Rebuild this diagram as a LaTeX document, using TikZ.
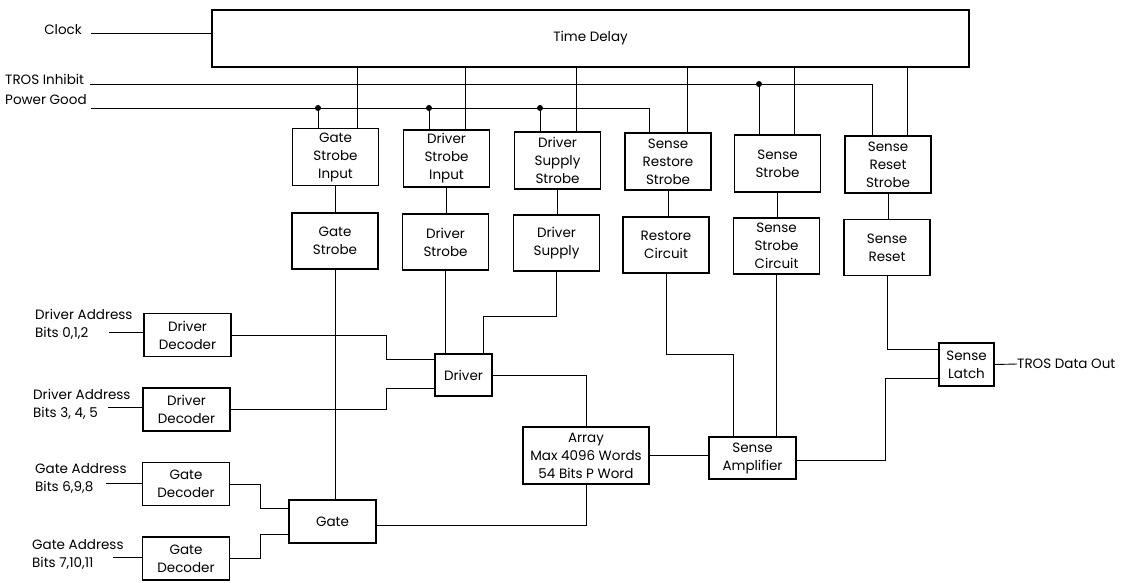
\documentclass[tikz,border=0pt]{standalone}
\usepackage{fontspec}
\setmainfont{Poppins}
\usetikzlibrary{calc}
\begin{document}
\begin{tikzpicture}[x=1pt,y=-1pt,
  txt/.style={font=\fontsize{13.5}{18}\selectfont},
  box/.style={draw, line width=1.4pt, align=center, inner sep=0pt, txt},
  sbox/.style={box, minimum width=86pt, minimum height=57pt},
  tbox/.style={box, minimum width=86pt, minimum height=56pt},
  dbox/.style={box, minimum width=87pt, minimum height=43pt},
  wire/.style={line width=0.9pt},
  lab/.style={inner sep=0pt, align=left, txt},
  jdot/.style={circle, fill, inner sep=0pt, minimum size=6pt}]
\useasboundingbox (0,0) rectangle (1127,582);

% Time delay
\node[box, minimum width=757pt, minimum height=57pt] (td) at (590.5,38.5) {Time Delay};

% strobe row
\node[sbox] (gsi)  at (335.5,157)   {Gate\\Strobe\\Input};
\node[sbox] (dsi)  at (446.5,158.5) {Driver\\Strobe\\Input};
\node[sbox] (dss)  at (557.5,160.5) {Driver\\Supply\\Strobe};
\node[sbox] (srs)  at (668,161.5)   {Sense\\Restore\\Strobe};
\node[sbox] (ss)   at (777.5,163.5) {Sense\\Strobe};
\node[sbox] (srst) at (888,164.5)   {Sense\\Reset\\Strobe};

% second row
\node[tbox] (gs)   at (335,241)     {Gate\\Strobe};
\node[tbox] (ds)   at (445.5,242)   {Driver\\Strobe};
\node[tbox] (dsup) at (556.5,243)   {Driver\\Supply};
\node[tbox] (rc)   at (666,245)     {Restore\\Circuit};
\node[tbox] (ssc)  at (776.5,246)   {Sense\\Strobe\\Circuit};
\node[tbox] (sr)   at (887,247.5)   {Sense\\Reset};

% decoders and lower blocks
\node[dbox] (dd1) at (187.5,335)  {Driver\\Decoder};
\node[dbox] (dd2) at (186.5,409.5){Driver\\Decoder};
\node[dbox] (gd1) at (186,484)    {Gate\\Decoder};
\node[dbox] (gd2) at (186,558.5)  {Gate\\Decoder};
\node[dbox] (gate) at (332.5,521.5) {Gate};
\node[box, minimum width=57pt, minimum height=42pt] (drv) at (463.5,375) {Driver};
\node[box, minimum width=126pt, minimum height=57pt] (arr) at (586,455.5) {Array\\Max 4096 Words\\54 Bits P Word};
\node[box, minimum width=87pt, minimum height=42pt] (samp) at (752.5,458) {Sense\\Amplifier};
\node[box, minimum width=55pt, minimum height=43pt] (latch) at (966.5,364.5) {Sense\\Latch};

% labels
\node[lab, anchor=east] (clk) at (82,30) {Clock};
\node[lab, anchor=west] (tros) at (5,79) {TROS Inhibit};
\node[lab, anchor=west] (pg) at (5,100) {Power Good};
\node[lab, anchor=north west] (da1) at (35,309) {Driver Address\\Bits 0,1,2};
\node[lab, anchor=north west] (da2) at (33,389) {Driver Address\\Bits 3, 4, 5};
\node[lab, anchor=north west] (ga1) at (35,463) {Gate Address\\Bits 6,9,8};
\node[lab, anchor=north west] (ga2) at (32,539) {Gate Address\\Bits 7,10,11};
\node[lab, anchor=west] (out) at (1017,364) {TROS Data Out};

% free ends
\coordinate (clkin) at (91,33);
\coordinate (trosin) at (90,84);
\coordinate (pgin) at (91,108);
\coordinate (in1) at (109,332);
\coordinate (in2) at (108,407);
\coordinate (in3) at (106,483);
\coordinate (in4) at (113,557);

\draw[wire] (clkin) -- (clkin -| td.west);
\draw[wire] (in1) -- (in1 -| dd1.west);
\draw[wire] (in2) -- (in2 -| dd2.west);
\draw[wire] (in3) -- (in3 -| gd1.west);
\draw[wire] (in4) -- (in4 -| gd2.west);
\draw[wire] (latch.east) -- (out.west);

% time delay taps
\foreach \n/\s in {gsi/21.5, dsi/18.5, dss/18.5, srs/19, ss/16.5, srst/19}{
  \path ([xshift=\s pt]\n.north) coordinate (tap);
  \draw[wire] (tap) -- (tap |- td.south);
}

% TROS inhibit
\path ([xshift=-16pt]srst.north) coordinate (t2);
\path ([xshift=-18.5pt]ss.north) coordinate (t1);
\draw[wire] (trosin) -| (t2);
\draw[wire] (t1) -- (t1 |- trosin);
\node[jdot] at (t1 |- trosin) {};

% Power good
\path ([xshift=-19pt]srs.north) coordinate (p4);
\draw[wire] (pgin) -| (p4);
\foreach \n in {gsi, dsi, dss}{
  \path ([xshift=-17.5pt]\n.north) coordinate (pp);
  \draw[wire] (pp) -- (pp |- pgin);
  \node[jdot] at (pp |- pgin) {};
}

% row1 -> row2
\draw[wire] (gsi.south) -- (gsi.south |- gs.north);
\draw[wire] (dsi.south) -- (dsi.south |- ds.north);
\draw[wire] (dss.south) -- (dss.south |- dsup.north);
\draw[wire] (srs.south) -- (srs.south |- rc.north);
\draw[wire] (ss.south) -- (ss.south |- ssc.north);
\draw[wire] (srst.south) -- (srst.south |- sr.north);

% decoders to driver / gate
\path ([yshift=16pt]drv.west) coordinate (dw1);
\path ([yshift=-13pt]drv.west) coordinate (dw2);
\draw[wire] (dd1.east) -- (386,335) |- (dw1);
\draw[wire] (dd2.east) -- (386,409.5) |- (dw2);
\path ([yshift=13.5pt]gate.west) coordinate (gw1);
\path ([yshift=-12.5pt]gate.west) coordinate (gw2);
\draw[wire] (gd1.east) -- (260,484) |- (gw1);
\draw[wire] (gd2.east) -- (260,558.5) |- (gw2);

% strobes to driver / gate
\draw[wire] (gs.south) -- (gs.south |- gate.north);
\path ([xshift=-18.5pt]drv.north) coordinate (dn1);
\path ([xshift=19.5pt]drv.north) coordinate (dn2);
\draw[wire] (ds.south) -- (ds.south |- dn1);
\draw[wire] (dsup.south) |- (483,316) -- (dn2);

% driver -> array, array -> gate, array -> sense amp
\draw[wire] (drv.east) -| (arr.north);
\path ([yshift=-3.5pt]gate.east) coordinate (ge);
\draw[wire] (arr.south) |- (ge);
\draw[wire] (arr.east) -- (arr.east -| samp.west);

% restore / sense strobe circuit -> sense amp
\path ([xshift=-19.5pt]samp.north) coordinate (sa1);
\draw[wire] (rc.south) |- (733,354) -- (sa1);
\draw[wire] (ssc.south) -- (ssc.south |- samp.north);

% sense amp / reset -> latch
\path ([yshift=-13.5pt]latch.west) coordinate (lw1);
\path ([yshift=15.5pt]latch.west) coordinate (lw2);
\draw[wire] ([yshift=-2pt]samp.east) -| (885,378) -- (lw1);
\draw[wire] (sr.south) |- (lw2);
\end{tikzpicture}
\end{document}
